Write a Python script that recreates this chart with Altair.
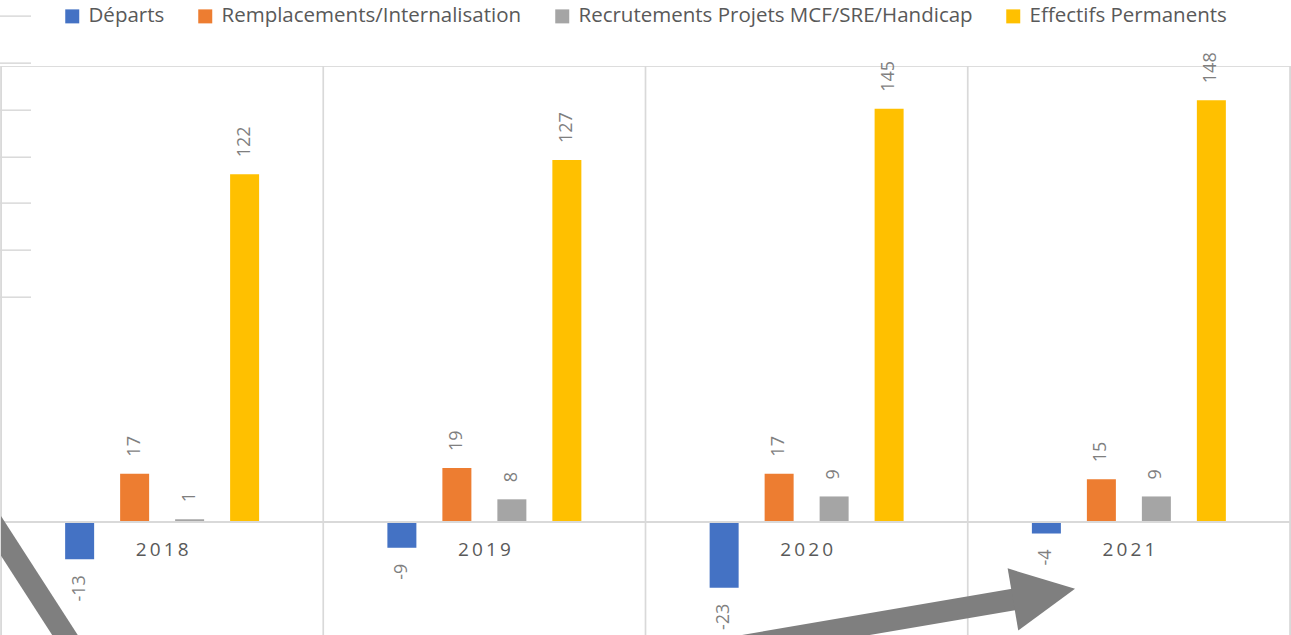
import altair as alt
import pandas as pd

years = ["2018", "2019", "2020", "2021"]
series_names = ["Départs", "Remplacements/Internalisation",
                "Recrutements Projets MCF/SRE/Handicap", "Effectifs Permanents"]
departs = [-13, -9, -23, -4]
remplacements = [17, 19, 17, 15]
recrutements = [1, 8, 9, 9]
effectifs = [122, 127, 145, 148]
colors = ["#4472C4", "#ED7D31", "#A5A5A5", "#FFC000"]

# category boundaries (in category units) for vertical separators
boundaries = [0, 1, 2, 3, 4]
# short left tick marks (value units)
left_ticks = [177.5, 161, 144.5, 128, 111.9, 95.4, 78.9]
# decorative arrows (x in category units, y in value units)
arrow1_u = [-0.1316, 0.2886]
arrow1_v = [18.24, -55.4]
arrow2_u = [2.169, 3.162]
arrow2_v = [-45.95, -26.76]
head_u = [3.2366]
head_v = [-25.25]

rows = []
for i, y in enumerate(years):
    for s, vals in zip(series_names, [departs, remplacements, recrutements, effectifs]):
        rows.append({"year": y, "series": s, "value": vals[i], "label": str(vals[i])})
df = pd.DataFrame(rows)

FONT = "Open Sans"
Y_DOMAIN = [-39.6, 160]

xs = alt.X("year:N", sort=years, axis=None,
           scale=alt.Scale(paddingInner=0, paddingOuter=0))
xo = alt.XOffset("series:N", sort=series_names,
                 scale=alt.Scale(paddingInner=0, paddingOuter=0.93))
ys = alt.Y("value:Q", axis=None, scale=alt.Scale(domain=Y_DOMAIN, nice=False, zero=False))

uscale = alt.Scale(domain=[0, 4], nice=False, zero=False)

grid = alt.Chart(pd.DataFrame({"u": boundaries})).mark_rule(
    color="#d9d9d9", strokeWidth=1.7
).encode(x=alt.X("u:Q", scale=uscale, axis=None))

ticks = alt.Chart(pd.DataFrame({"value": left_ticks})).mark_rule(
    color="#d9d9d9", strokeWidth=1.5
).encode(y=ys, x=alt.value(-1), x2=alt.value(30))

bars = alt.Chart(df).mark_bar(width=29).encode(
    x=xs, xOffset=xo, y=ys, y2=alt.Y2(datum=0),
    color=alt.Color("series:N", sort=series_names,
                    scale=alt.Scale(domain=series_names, range=colors),
                    legend=alt.Legend(
                        title=None, orient="none", legendX=61, legendY=-60,
                        direction="horizontal", symbolType="square",
                        symbolSize=196, symbolStrokeWidth=0, labelOffset=6,
                        columnPadding=30, labelFont=FONT, labelFontSize=20.5,
                        labelColor="#595959", padding=0, labelLimit=600))
)

zero = alt.Chart(pd.DataFrame({"z": [0]})).mark_rule(
    color="#d9d9d9", strokeWidth=2
).encode(y=alt.Y("z:Q", scale=alt.Scale(domain=Y_DOMAIN, nice=False, zero=False), axis=None))

pos_labels = alt.Chart(df).transform_filter("datum.value >= 0").mark_text(
    align="left", baseline="middle", angle=270, dx=17,
    font=FONT, fontSize=18, color="#7f7f7f"
).encode(x=xs, xOffset=xo, y=ys, text="label:N")

neg_labels = alt.Chart(df).transform_filter("datum.value < 0").mark_text(
    align="right", baseline="middle", angle=270, dx=-16,
    font=FONT, fontSize=18, color="#7f7f7f"
).encode(x=xs, xOffset=xo, y=ys, text="label:N")

year_df = pd.DataFrame({"year": years, "label": ["\u2009".join(y) for y in years], "value": [0] * 4})
year_labels = alt.Chart(year_df).mark_text(
    baseline="middle", dy=28, font=FONT, fontSize=19, color="#595959"
).encode(x=xs, y=ys, text="label:N")

arrow1 = alt.Chart(pd.DataFrame({"u": arrow1_u, "value": arrow1_v})).mark_line(
    color="#7f7f7f", strokeWidth=21.5, strokeCap="butt", clip=True
).encode(x=alt.X("u:Q", scale=uscale, axis=None), y=ys)

arrow2 = alt.Chart(pd.DataFrame({"u": arrow2_u, "value": arrow2_v})).mark_line(
    color="#7f7f7f", strokeWidth=21.5, strokeCap="butt", clip=True
).encode(x=alt.X("u:Q", scale=uscale, axis=None), y=ys)

head = alt.Chart(pd.DataFrame({"u": head_u, "value": head_v})).mark_point(
    shape="M-1,-1L1,0L-1,1Z", filled=True, size=3969, angle=350.3,
    color="#7f7f7f", opacity=1, strokeWidth=0
).encode(x=alt.X("u:Q", scale=uscale, axis=None), y=ys)

chart = alt.layer(
    grid, ticks, bars, zero, pos_labels, neg_labels, year_labels, arrow1, arrow2, head
).resolve_scale(x="independent").properties(
    width=1289, height=569,
    padding={"left": 1, "top": 66, "right": 1, "bottom": 0},
    autosize=alt.AutoSizeParams(type="none"),
).configure_view(stroke=None).configure(background="white")

chart.save("out.html", embed_options={"renderer": "svg", "actions": False})
